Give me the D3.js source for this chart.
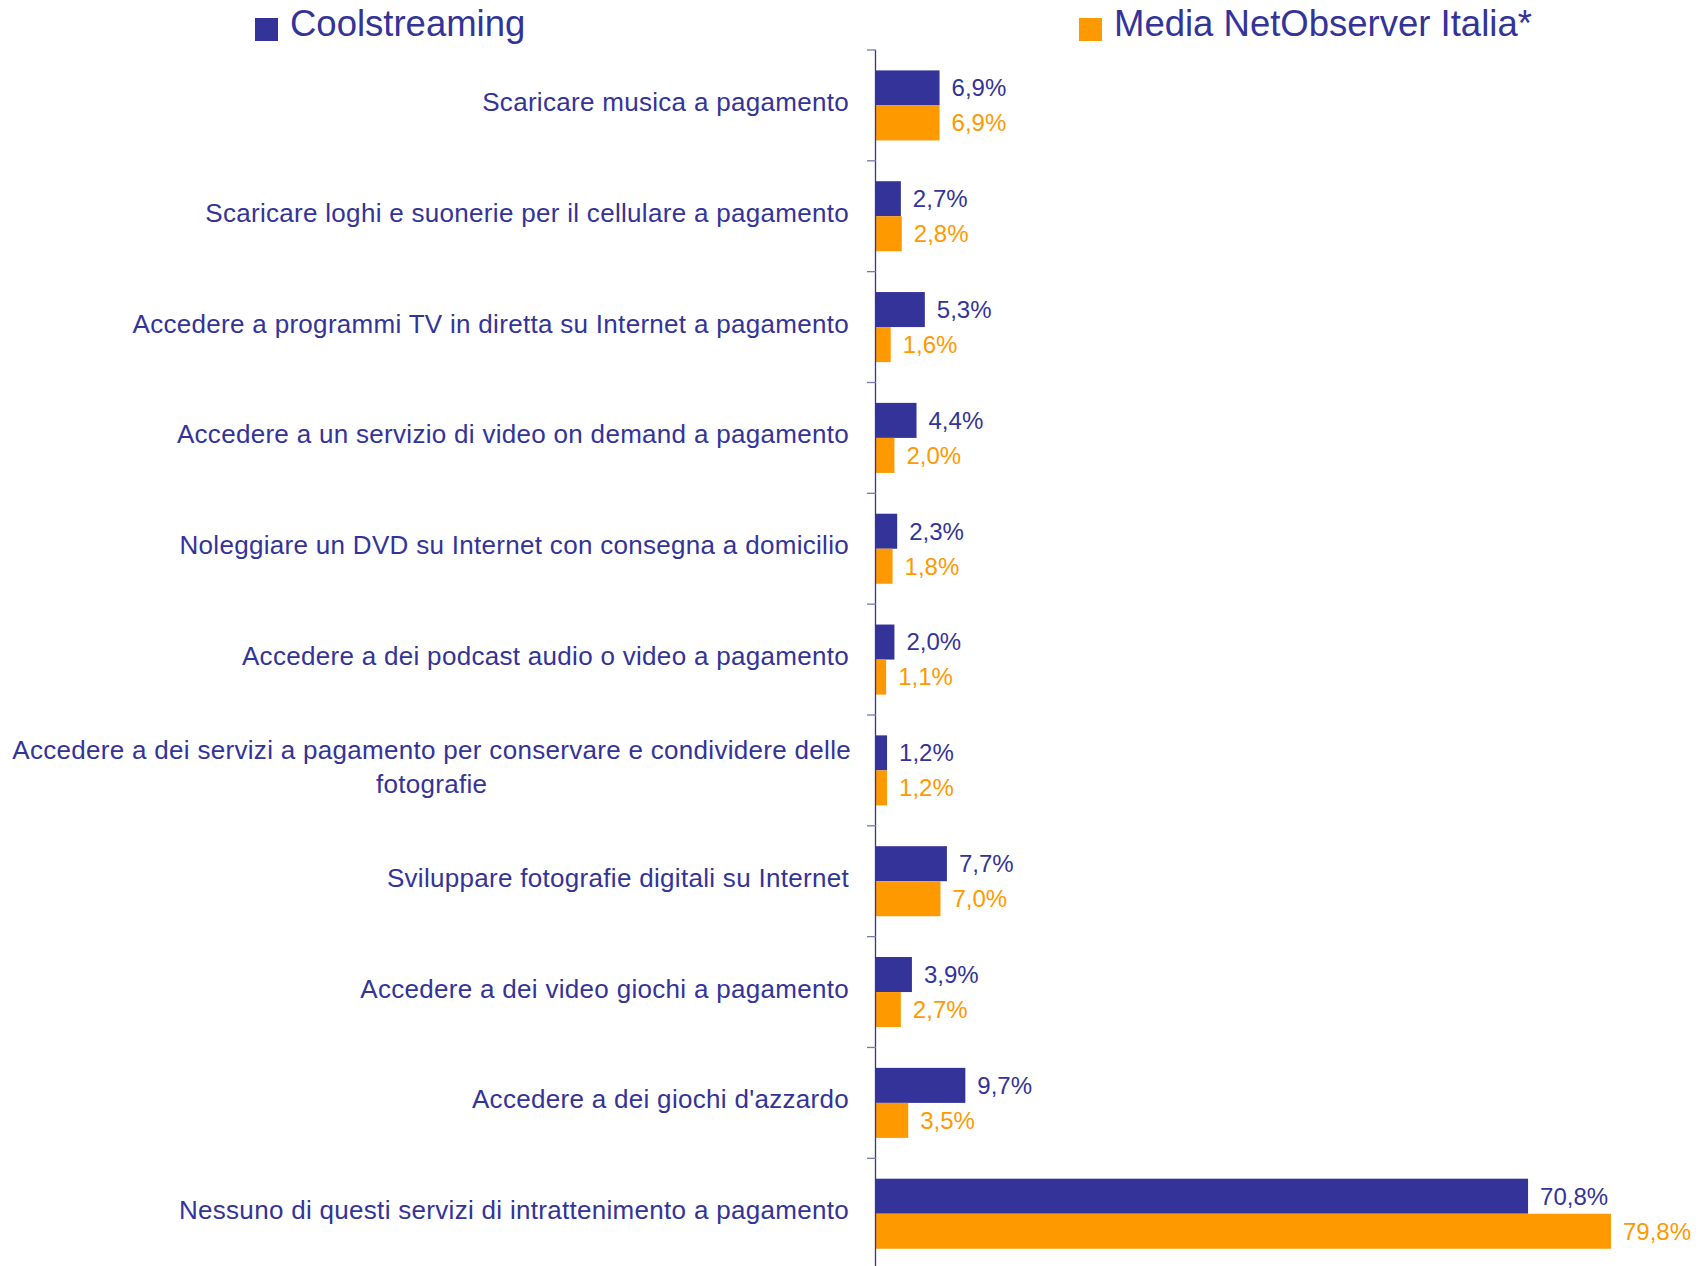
<!DOCTYPE html>
<html>
<head>
<meta charset="utf-8">
<script src="https://cdn.jsdelivr.net/npm/d3@7"></script>
<style>
  html, body { margin: 0; padding: 0; background: #fff; }
  svg { display: block; font-family: "Liberation Sans", Arial, sans-serif; }
</style>
</head>
<body>
<svg id="chart"></svg>
<script>
// data
const categories = [
    "Scaricare musica a pagamento",
    "Scaricare loghi e suonerie per il cellulare a pagamento",
    "Accedere a programmi TV in diretta su Internet a pagamento",
    "Accedere a un servizio di video on demand a pagamento",
    "Noleggiare un DVD su Internet con consegna a domicilio",
    "Accedere a dei podcast audio o video a pagamento",
    "Accedere a dei servizi a pagamento per conservare e condividere delle fotografie",
    "Sviluppare fotografie digitali su Internet",
    "Accedere a dei video giochi a pagamento",
    "Accedere a dei giochi d'azzardo",
    "Nessuno di questi servizi di intrattenimento a pagamento"
];
const seriesNames = ["Coolstreaming", "Media NetObserver Italia*"];
const coolstreaming = [6.9, 2.7, 5.3, 4.4, 2.3, 2.0, 1.2, 7.7, 3.9, 9.7, 70.8];
const netObserver = [6.9, 2.8, 1.6, 2.0, 1.8, 1.1, 1.2, 7.0, 2.7, 3.5, 79.8];
const colors = ["#333399", "#FF9900"];

const width = 1702, height = 1266;
const svg = d3.select("#chart").attr("width", width).attr("height", height);

const axisX = 876;
const x = d3.scaleLinear().domain([0, 100]).range([axisX, 1797]);

const step = 110.83;
const y = d3.scaleBand()
    .domain(categories)
    .range([50, 50 + step * categories.length])
    .paddingInner(0.368)
    .paddingOuter(0.184);

const ySub = d3.scaleBand()
    .domain([0, 1])
    .range([0, y.bandwidth()]);

const rows = categories.map((c, i) => ({ cat: c, vals: [coolstreaming[i], netObserver[i]] }));

// bars
const g = svg.selectAll(".row")
    .data(rows)
    .join("g")
    .attr("class", "row")
    .attr("transform", d => `translate(0,${y(d.cat)})`);

g.selectAll("rect")
    .data(d => d.vals)
    .join("rect")
    .attr("x", x(0))
    .attr("y", (_, i) => ySub(i))
    .attr("width", v => x(v) - x(0))
    .attr("height", ySub.bandwidth())
    .attr("fill", (_, i) => colors[i]);

g.selectAll(".val")
    .data(d => d.vals)
    .join("text")
    .attr("class", "val")
    .attr("x", v => x(v) + 12)
    .attr("y", (_, i) => ySub(i) + ySub.bandwidth() / 2)
    .attr("dy", "0.35em")
    .attr("font-size", 24)
    .attr("fill", (_, i) => colors[i])
    .text(v => d3.format(".1f")(v).replace(".", ",") + "%");

// axis line and ticks
svg.append("line")
    .attr("x1", axisX - 0.5).attr("x2", axisX - 0.5)
    .attr("y1", 50).attr("y2", height)
    .attr("stroke", "#333399").attr("stroke-width", 1.3);

svg.selectAll(".tick")
    .data(d3.range(categories.length + 1))
    .join("line")
    .attr("class", "tick")
    .attr("x1", axisX - 9).attr("x2", axisX)
    .attr("y1", i => 50 + i * step).attr("y2", i => 50 + i * step)
    .attr("stroke", "#7777aa").attr("stroke-width", 1.3);

// category labels, wrapped
const labelRight = 849, maxW = 850, lineH = 34;
svg.selectAll(".cat")
    .data(categories)
    .join("text")
    .attr("class", "cat")
    .attr("font-size", 26)
    .attr("letter-spacing", 0.3)
    .attr("fill", "#333399")
    .each(function (d) {
        const t = d3.select(this);
        const words = d.split(" ");
        const lines = [];
        let cur = [];
        const probe = t.append("tspan");
        words.forEach(w => {
            const test = cur.concat(w).join(" ");
            probe.text(test);
            if (probe.node().getComputedTextLength() > maxW && cur.length) {
                lines.push(cur.join(" "));
                cur = [w];
            } else {
                cur.push(w);
            }
        });
        lines.push(cur.join(" "));
        probe.remove();

        const cy = y(d) + y.bandwidth() / 2 + 5.5;
        const n = lines.length;
        if (n === 1) {
            t.attr("text-anchor", "end")
                .attr("x", labelRight)
                .attr("y", cy)
                .text(lines[0]);
        } else {
            const spans = lines.map((l, i) => t.append("tspan")
                .attr("y", cy + (i - (n - 1) / 2) * lineH)
                .text(l));
            const w = d3.max(spans, s => s.node().getComputedTextLength());
            t.attr("text-anchor", "middle");
            spans.forEach(s => s.attr("x", labelRight + 2 - w / 2));
        }
    });

// legend
const legendX = [255, 1079];
const legend = svg.selectAll(".legend")
    .data(seriesNames)
    .join("g")
    .attr("class", "legend")
    .attr("transform", (_, i) => `translate(${legendX[i]},0)`);

legend.append("rect")
    .attr("x", 0).attr("y", 18)
    .attr("width", 23).attr("height", 23)
    .attr("fill", (_, i) => colors[i]);

legend.append("text")
    .attr("x", 35).attr("y", 36)
    .attr("font-size", 36.5)
    .attr("fill", "#333399")
    .text(d => d);
</script>
</body>
</html>
